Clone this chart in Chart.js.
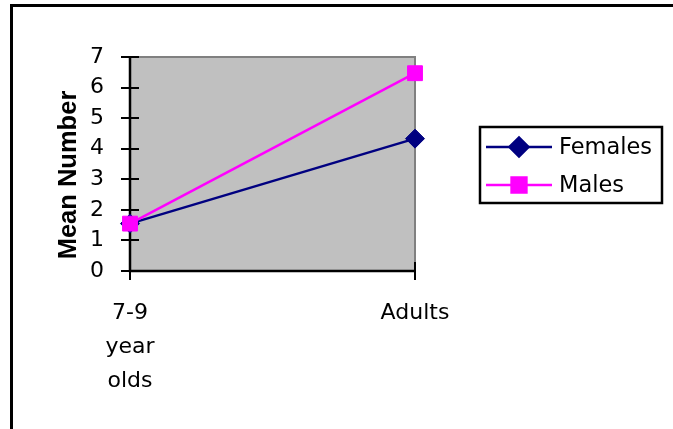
<!DOCTYPE html>
<html>
<head>
<meta charset="utf-8">
<title>Mean Number by age group</title>
<script src="https://cdn.jsdelivr.net/npm/chart.js@4/dist/chart.umd.min.js"></script>
<style>
  html, body { margin: 0; padding: 0; background: #fff; }
  #wrap { position: relative; width: 673px; height: 429px; }
</style>
</head>
<body>
<div id="wrap"><canvas id="chart"></canvas></div>
<script>
// --- data ---
const ageGroups = [['7-9', 'year', 'olds'], 'Adults'];
const seriesNames = ['Females', 'Males'];
const femalesMean = [1.55, 4.33];
const malesMean = [1.55, 6.47];
const yRange = [0, 7];
const axisTitle = 'Mean Number';

const FONT = '"DejaVu Sans", "Open Sans", sans-serif';
const TITLE_FONT = '"Liberation Sans", Arial, sans-serif';

const colors = {
    females: '#000080',
    males: '#ff00ff',
    plot: '#c0c0c0',
    plotEdge: '#808080',
    axis: '#000000'
};

// plot background, axis lines with crossing tick marks, legend box and frame
const excelLook = {
    id: 'excelLook',
    beforeDraw(chart) {
        const { ctx, chartArea: a } = chart;
        ctx.save();
        ctx.fillStyle = '#fff';
        ctx.fillRect(0, 0, chart.width, chart.height);
        ctx.fillStyle = colors.plot;
        ctx.fillRect(a.left, a.top, a.right - a.left, a.bottom - a.top);
        ctx.restore();
    },
    beforeDatasetsDraw(chart) {
        const { ctx, chartArea: a, scales: { x, y } } = chart;
        ctx.save();
        // top / right edge of the plot area
        ctx.strokeStyle = colors.plotEdge;
        ctx.lineWidth = 2;
        ctx.beginPath();
        ctx.moveTo(a.left, a.top);
        ctx.lineTo(a.right, a.top);
        ctx.lineTo(a.right, a.bottom);
        ctx.stroke();

        // axes
        ctx.strokeStyle = colors.axis;
        ctx.lineWidth = 2.5;
        ctx.beginPath();
        ctx.moveTo(a.left, a.top);
        ctx.lineTo(a.left, a.bottom);
        ctx.lineTo(a.right, a.bottom);
        ctx.stroke();

        ctx.lineWidth = 2;
        ctx.beginPath();
        y.ticks.forEach(t => {
            const py = Math.round(y.getPixelForValue(t.value));
            ctx.moveTo(a.left - 9, py);
            ctx.lineTo(a.left + 9, py);
        });
        x.ticks.forEach((t, i) => {
            const px = Math.round(x.getPixelForTick(i));
            ctx.moveTo(px, a.bottom - 9);
            ctx.lineTo(px, a.bottom + 9);
        });
        ctx.stroke();
        ctx.restore();
    },
    afterDraw(chart) {
        const { ctx, chartArea: a } = chart;
        ctx.save();

        // y axis title
        ctx.fillStyle = '#000';
        ctx.font = 'bold 25.5px ' + TITLE_FONT;
        ctx.textAlign = 'center';
        ctx.textBaseline = 'middle';
        ctx.translate(69, (a.top + a.bottom) / 2 + 11);
        ctx.rotate(-Math.PI / 2);
        ctx.fillText(axisTitle, 0, 0);
        ctx.setTransform(1, 0, 0, 1, 0, 0);

        // legend
        const box = { x: a.right + 65, y: 127, w: 182, h: 76 };
        ctx.fillStyle = '#fff';
        ctx.fillRect(box.x, box.y, box.w, box.h);
        ctx.strokeStyle = '#000';
        ctx.lineWidth = 2.5;
        ctx.strokeRect(box.x, box.y, box.w, box.h);

        ctx.font = '22.5px ' + FONT;
        ctx.textAlign = 'left';
        ctx.textBaseline = 'middle';
        chart.data.datasets.forEach((ds, i) => {
            const cy = box.y + 20 + i * 38;
            ctx.strokeStyle = ds.borderColor;
            ctx.lineWidth = ds.borderWidth;
            ctx.beginPath();
            ctx.moveTo(box.x + 6, cy);
            ctx.lineTo(box.x + 72, cy);
            ctx.stroke();
            ctx.fillStyle = ds.backgroundColor;
            ctx.strokeStyle = ds.borderColor;
            Chart.helpers.drawPoint(ctx, {
                pointStyle: ds.pointStyle,
                radius: ds.pointRadius,
                rotation: 0,
                borderWidth: 1
            }, box.x + 39, cy);
            ctx.fillStyle = '#000';
            ctx.fillText(ds.label, box.x + 79, cy + 1);
        });

        // chart frame (top and left edges)
        ctx.fillStyle = '#000';
        ctx.fillRect(10, 4, chart.width - 10, 3);
        ctx.fillRect(10, 4, 3, chart.height - 4);
        ctx.restore();
    }
};

const ctx = document.getElementById('chart').getContext('2d');

new Chart(ctx, {
    type: 'line',
    data: {
        labels: ageGroups,
        datasets: [
            {
                label: seriesNames[0],
                data: femalesMean,
                borderColor: colors.females,
                backgroundColor: colors.females,
                borderWidth: 2.5,
                pointStyle: 'rectRot',
                pointRadius: 9.5,
                pointBorderWidth: 1,
                tension: 0,
                order: 1
            },
            {
                label: seriesNames[1],
                data: malesMean,
                borderColor: colors.males,
                backgroundColor: colors.males,
                borderWidth: 2.5,
                pointStyle: 'rect',
                pointRadius: 10.5,
                pointBorderWidth: 1,
                tension: 0,
                order: 0
            }
        ]
    },
    options: {
        responsive: true,
        maintainAspectRatio: false,
        animation: false,
        layout: { padding: { top: 57, right: 258, left: 0, bottom: 0 } },
        plugins: {
            legend: { display: false },
            tooltip: { enabled: false }
        },
        scales: {
            x: {
                offset: false,
                grid: { display: false, drawTicks: false },
                border: { display: false },
                ticks: {
                    color: '#000',
                    font: { family: FONT, size: 22, lineHeight: 1.55 },
                    padding: 25,
                    autoSkip: false,
                    maxRotation: 0
                },
                afterFit(scale) { scale.height = 158; }
            },
            y: {
                min: yRange[0],
                max: yRange[1],
                grid: { display: false, drawTicks: false },
                border: { display: false },
                ticks: {
                    stepSize: 1,
                    color: '#000',
                    font: { family: FONT, size: 22 },
                    padding: 26
                },
                afterFit(scale) { scale.width = 130; }
            }
        }
    },
    plugins: [excelLook]
});
</script>
</body>
</html>
